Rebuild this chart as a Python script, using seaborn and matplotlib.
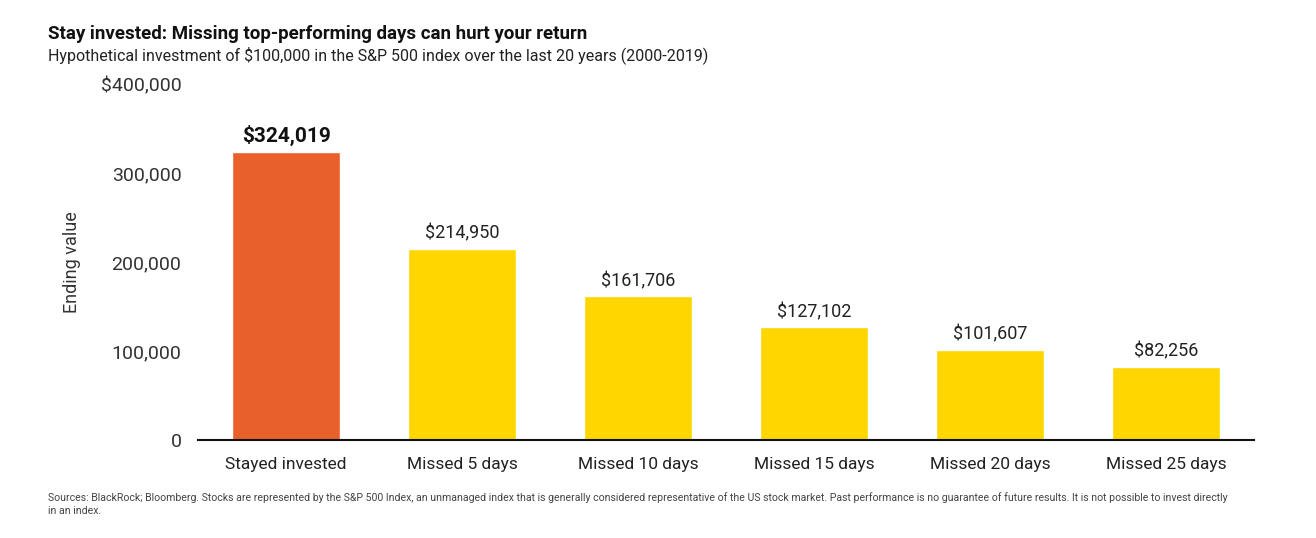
import numpy as np
import pandas as pd
import matplotlib.pyplot as plt
import seaborn as sns

categories = ['Stayed invested', 'Missed 5 days', 'Missed 10 days',
              'Missed 15 days', 'Missed 20 days', 'Missed 25 days']
values = [324019, 214950, 161706, 127102, 101607, 82256]
bar_colors = ['#E9612A', '#FFD600', '#FFD600', '#FFD600', '#FFD600', '#FFD600']
yticks = [0, 100000, 200000, 300000, 400000]
ytick_labels = ['0', '100,000', '200,000', '300,000', '$400,000']

sns.set_theme(style='white')
plt.rcParams['font.family'] = ['Roboto', 'DejaVu Sans']

df = pd.DataFrame({'category': categories, 'value': values})

fig = plt.figure(figsize=(13.16, 5.38), dpi=100)
ax = fig.add_axes([0.1505, 0.182, 0.8025, 0.661])

sns.barplot(data=df, x='category', y='value', hue='category',
            palette=dict(zip(categories, bar_colors)), width=0.61,
            legend=False, ax=ax, saturation=1)

ax.set_xlim(-0.5, 5.5)
ax.set_ylim(0, 400000)
ax.set_yticks(yticks)
ax.set_yticklabels(ytick_labels, fontsize=14, color='#333333')
ax.tick_params(axis='y', length=0, pad=12)
ax.tick_params(axis='x', length=0, pad=12, labelsize=12.5, labelcolor='#222222')
ax.set_xlabel('')
ax.set_ylabel('Ending value', fontsize=13, color='#333333', labelpad=14)

for s in ['top', 'right', 'left']:
    ax.spines[s].set_visible(False)
ax.spines['bottom'].set_color('#111111')
ax.spines['bottom'].set_linewidth(1.5)

for i, v in enumerate(values):
    if i == 0:
        ax.text(i, v + 7000, f'${v:,}', ha='center', va='bottom',
                fontsize=15, fontweight='bold', color='#111111')
    else:
        ax.text(i, v + 7000, f'${v:,}', ha='center', va='bottom',
                fontsize=13, color='#222222')

fig.text(0.0365, 0.937, 'Stay invested: Missing top-performing days can hurt your return',
         fontsize=13.5, fontweight='bold', color='#111111', va='center')
fig.text(0.0365, 0.898, 'Hypothetical investment of $100,000 in the S&P 500 index over the last 20 years (2000-2019)',
         fontsize=11.5, color='#222222', va='center')
fig.text(0.0365, 0.063,
         'Sources: BlackRock; Bloomberg. Stocks are represented by the S&P 500 Index, an unmanaged index that is generally '
         'considered representative of the US stock market. Past performance is no guarantee of future results. '
         'It is not possible to invest directly\nin an index.',
         fontsize=7.6, color='#444444', va='center', linespacing=1.4)

fig.savefig('out.png', dpi=100)
